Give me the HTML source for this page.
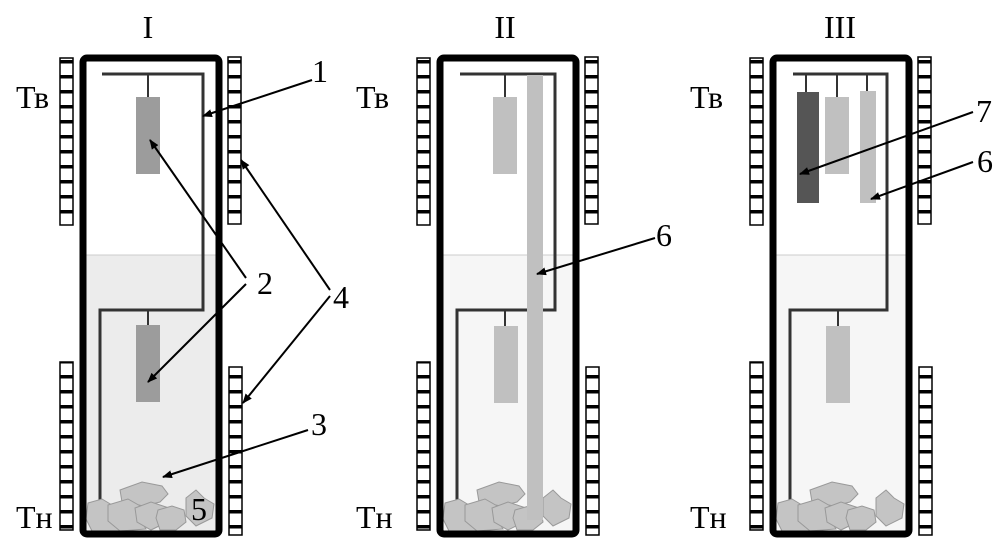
<!DOCTYPE html>
<html><head><meta charset="utf-8"><style>body{margin:0;background:#fff}svg{display:block}text{font-family:"Liberation Serif","Times New Roman",serif}</style></head><body>
<svg width="1006" height="540" viewBox="0 0 1006 540" xmlns="http://www.w3.org/2000/svg">
<defs>
<pattern id="hs" width="14" height="15" patternUnits="userSpaceOnUse"><rect width="14" height="15" fill="#fff"/><rect y="0" width="14" height="3.5" fill="#000"/></pattern>
<marker id="ah" markerWidth="10" markerHeight="8" refX="9" refY="4" orient="auto" markerUnits="userSpaceOnUse"><path d="M0,0 L10,4 L0,8 z" fill="#000"/></marker>
<g id="rocks">
<path d="M88,503 l14,-4 l10,6 l8,-2 l4,10 l-2,10 l4,8 l-34,0 l-6,-12 z" fill="#c4c4c4" stroke="#999" stroke-width="1"/>
<path d="M120,490 l22,-8 l20,4 l6,8 l-8,8 l-16,4 l-22,-4 z" fill="#c4c4c4" stroke="#999" stroke-width="1"/>
<path d="M108,505 l20,-6 l14,8 l-2,12 l6,10 l-26,2 l-12,-10 z" fill="#c4c4c4" stroke="#999" stroke-width="1"/>
<path d="M135,508 l16,-6 l18,6 l-2,14 l-16,8 l-14,-8 z" fill="#c4c4c4" stroke="#999" stroke-width="1"/>
<path d="M158,510 l14,-4 l12,4 l2,12 l-10,8 l-16,0 l-4,-12 z" fill="#c4c4c4" stroke="#999" stroke-width="1"/>
<path d="M186,498 l10,-8 l8,8 l10,6 l-2,14 l-16,8 l-10,-10 z" fill="#c4c4c4" stroke="#999" stroke-width="1"/>
</g>
<g id="heat">
<rect x="60" y="58" width="13" height="167" fill="url(#hs)" stroke="#000" stroke-width="1.5"/>
<rect x="60" y="362" width="13" height="168" fill="url(#hs)" stroke="#000" stroke-width="1.5"/>
<rect x="228" y="57" width="13" height="167" fill="url(#hs)" stroke="#000" stroke-width="1.5"/>
<rect x="229" y="367" width="13" height="168" fill="url(#hs)" stroke="#000" stroke-width="1.5"/>
</g>
</defs>

<!-- Panel I -->
<rect x="83" y="255" width="136" height="278" fill="#ececec"/>
<line x1="83" y1="255" x2="219" y2="255" stroke="#ccc"/>
<use href="#heat"/>
<path d="M102,74 H203 V310 H100 V505" fill="none" stroke="#333" stroke-width="3"/>
<line x1="148" y1="74" x2="148" y2="97" stroke="#333" stroke-width="2"/>
<rect x="136" y="97" width="24" height="77" fill="#9c9c9c"/>
<line x1="148" y1="310" x2="148" y2="325" stroke="#333" stroke-width="2"/>
<rect x="136" y="325" width="24" height="77" fill="#9c9c9c"/>
<use href="#rocks"/>
<rect x="83" y="58" width="136" height="476" rx="4" fill="none" stroke="#000" stroke-width="7"/>

<!-- Panel II -->
<g transform="translate(357,0)">
<rect x="83" y="255" width="136" height="278" fill="#f6f6f6"/>
<line x1="83" y1="255" x2="219" y2="255" stroke="#ccc"/>
<use href="#heat"/>
<path d="M103,74 H198 V310 H100 V505" fill="none" stroke="#333" stroke-width="3"/>
<line x1="148" y1="74" x2="148" y2="97" stroke="#333" stroke-width="2"/>
<rect x="136" y="97" width="24" height="77" fill="#c0c0c0"/>
<line x1="148" y1="310" x2="148" y2="326" stroke="#333" stroke-width="2"/>
<rect x="137" y="326" width="24" height="77" fill="#c0c0c0"/>
<use href="#rocks"/>
<rect x="170" y="75" width="16" height="445" fill="#c0c0c0"/>
<rect x="83" y="58" width="136" height="476" rx="4" fill="none" stroke="#000" stroke-width="7"/>
</g>

<!-- Panel III -->
<g transform="translate(690,0)">
<rect x="83" y="255" width="136" height="278" fill="#f6f6f6"/>
<line x1="83" y1="255" x2="219" y2="255" stroke="#ccc"/>
<use href="#heat"/>
<path d="M103,74 H197 V310 H100 V505" fill="none" stroke="#333" stroke-width="3"/>
<line x1="116" y1="74" x2="116" y2="92" stroke="#333" stroke-width="2"/>
<line x1="147" y1="74" x2="147" y2="97" stroke="#333" stroke-width="2"/>
<line x1="177" y1="74" x2="177" y2="91" stroke="#333" stroke-width="2"/>
<rect x="107" y="92" width="22" height="111" fill="#555"/>
<rect x="135" y="97" width="24" height="77" fill="#c0c0c0"/>
<rect x="170" y="91" width="16" height="112" fill="#c0c0c0"/>
<line x1="148" y1="310" x2="148" y2="326" stroke="#333" stroke-width="2"/>
<rect x="136" y="326" width="24" height="77" fill="#c0c0c0"/>
<use href="#rocks"/>
<rect x="83" y="58" width="136" height="476" rx="4" fill="none" stroke="#000" stroke-width="7"/>
</g>

<!-- arrows -->
<g stroke="#000" stroke-width="2" marker-end="url(#ah)">
<line x1="312" y1="80" x2="203" y2="116"/>
<line x1="246" y1="278" x2="150" y2="140"/>
<line x1="246" y1="284" x2="148" y2="382"/>
<line x1="330" y1="290" x2="241" y2="160"/>
<line x1="330" y1="296" x2="243" y2="403"/>
<line x1="308" y1="430" x2="163" y2="477"/>
<line x1="655" y1="238" x2="537" y2="274"/>
<line x1="973" y1="112" x2="800" y2="174"/>
<line x1="973" y1="162" x2="871" y2="199"/>
</g>

<g font-size="32" fill="#000">
<text x="148" y="38" text-anchor="middle">I</text>
<text x="505" y="38" text-anchor="middle">II</text>
<text x="840" y="38" text-anchor="middle">III</text>
<text x="16" y="108">Тв</text><text x="16" y="528">Тн</text>
<text x="356" y="108">Тв</text><text x="356" y="528">Тн</text>
<text x="690" y="108">Тв</text><text x="690" y="528">Тн</text>
<text x="312" y="82">1</text>
<text x="257" y="294">2</text>
<text x="333" y="308">4</text>
<text x="311" y="435">3</text>
<text x="191" y="520">5</text>
<text x="656" y="246">6</text>
<text x="976" y="122">7</text>
<text x="977" y="172">6</text>
</g>
</svg>
</body></html>
